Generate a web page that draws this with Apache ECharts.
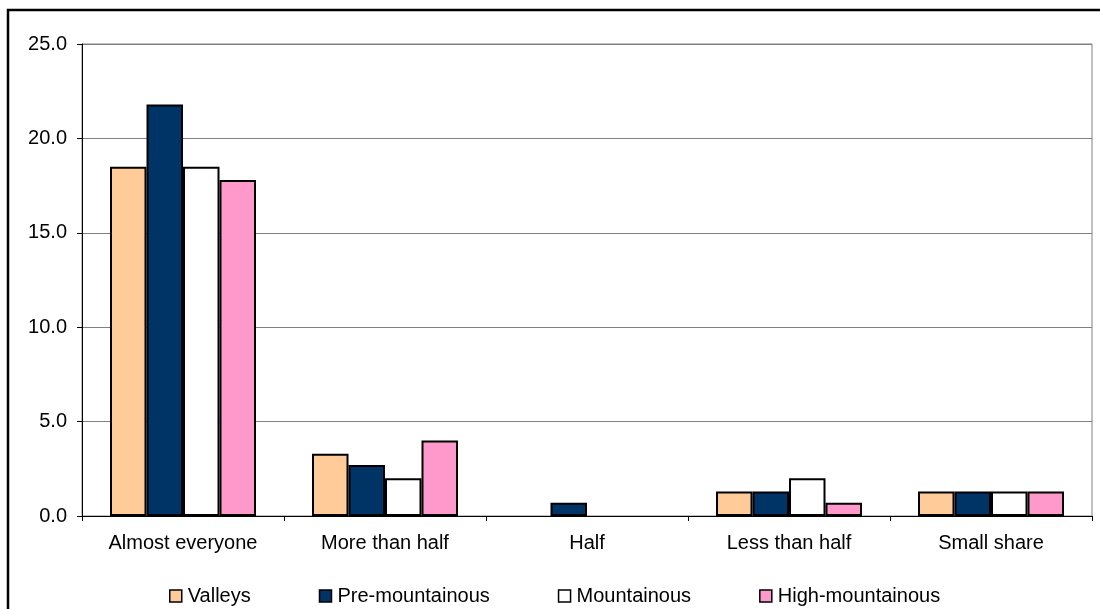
<!DOCTYPE html>
<html>
<head>
<meta charset="utf-8">
<script src="https://cdn.jsdelivr.net/npm/echarts@6/dist/echarts.min.js"></script>
<style>
  html, body { margin: 0; padding: 0; background: #ffffff; }
  #chart { width: 1100px; height: 609px; }
</style>
</head>
<body>
<div id="chart"></div>
<script>
// Share of respondents by zone (%)
var categories = ['Almost everyone', 'More than half', 'Half', 'Less than half', 'Small share'];
var seriesNames = ['Valleys', 'Pre-mountainous', 'Mountainous', 'High-mountainous'];
var valleys = [18.5, 3.3, 0, 1.3, 1.3];
var preMountainous = [21.8, 2.7, 0.7, 1.3, 1.3];
var mountainous = [18.5, 2.0, 0, 2.0, 1.3];
var highMountainous = [17.8, 4.0, 0, 0.7, 1.3];
var yTicks = [0, 5, 10, 15, 20, 25];

var seriesData = [valleys, preMountainous, mountainous, highMountainous];
var colors = ['#FFCC99', '#003366', '#FFFFFF', '#FF99CC'];
var font = '"Liberation Sans", Arial, sans-serif';

var chart = echarts.init(document.getElementById('chart'), null, { renderer: 'canvas' });

chart.setOption({
  animation: false,
  backgroundColor: '#ffffff',
  graphic: [{
    type: 'rect',
    silent: true,
    shape: { x: 8, y: 10, width: 1200, height: 700 },
    style: { fill: 'none', stroke: '#000000', lineWidth: 2.5 }
  }],
  grid: {
    left: 82, right: 8, top: 44, bottom: 93,
    show: true, borderColor: '#808080', borderWidth: 1,
    containLabel: false
  },
  legend: {
    data: seriesNames,
    left: 169, top: 586,
    padding: 0,
    itemWidth: 12, itemHeight: 12, itemGap: 68,
    icon: 'rect',
    itemStyle: { borderColor: '#000000', borderWidth: 1.5 },
    textStyle: { fontFamily: font, fontSize: 20, color: '#000000', padding: [0, 0, 0, 1] }
  },
  xAxis: {
    type: 'category',
    data: categories,
    axisLine: { lineStyle: { color: '#000000', width: 1 } },
    axisTick: { show: true, length: 5, inside: false, lineStyle: { color: '#000000' } },
    axisLabel: { fontFamily: font, fontSize: 20, color: '#000000', margin: 17 }
  },
  yAxis: {
    type: 'value',
    min: yTicks[0], max: yTicks[yTicks.length - 1], interval: yTicks[1] - yTicks[0],
    axisLine: { show: true, lineStyle: { color: '#000000', width: 1 } },
    axisTick: { show: true, length: 5, lineStyle: { color: '#000000' } },
    axisLabel: {
      fontFamily: font, fontSize: 20, color: '#000000', margin: 15,
      formatter: function (v) { return v.toFixed(1); }
    },
    splitLine: { show: true, lineStyle: { color: '#808080', width: 1 } }
  },
  series: seriesNames.map(function (name, i) {
    return {
      name: name,
      type: 'bar',
      // zero values leave no visible mark
      data: seriesData[i].map(function (v) {
        return v === 0 ? { value: v, itemStyle: { borderWidth: 0 } } : v;
      }),
      barWidth: 36.5,
      barGap: '0%',
      itemStyle: { color: colors[i], borderColor: '#000000', borderWidth: 2 }
    };
  })
});
</script>
</body>
</html>
